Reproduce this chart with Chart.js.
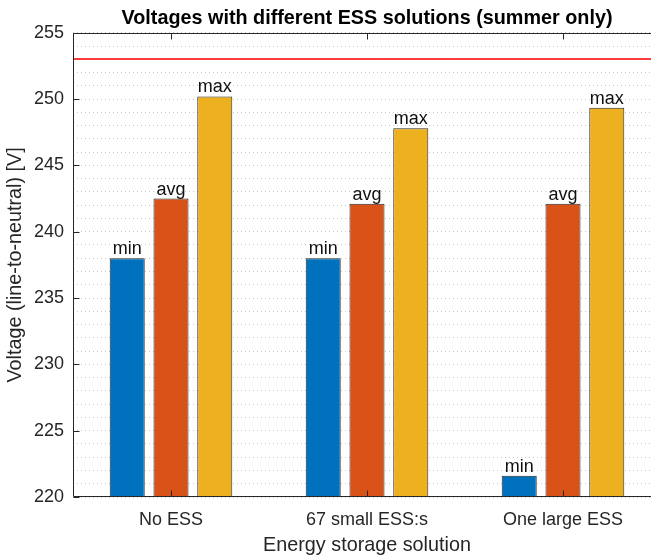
<!DOCTYPE html>
<html>
<head>
<meta charset="utf-8">
<script src="https://cdn.jsdelivr.net/npm/chart.js@4.4.1/dist/chart.umd.min.js"></script>
<style>
  html, body { margin: 0; padding: 0; background: #fff; overflow: hidden; }
  #wrap { width: 662px; height: 555px; }
</style>
</head>
<body>
<div id="wrap"><canvas id="c" width="662" height="555"></canvas></div>
<script>
// Voltage statistics per energy storage solution (summer)
const categories = ['No ESS', '67 small ESS:s', 'One large ESS'];
const seriesNames = ['min', 'avg', 'max'];
const minVoltage = [238.0, 238.0, 221.6];
const avgVoltage = [242.5, 242.1, 242.1];
const maxVoltage = [250.2, 247.8, 249.35];
const voltageLimit = 253;
const yMin = 220, yMax = 255, yStep = 1, yLabelStep = 5;

const seriesColors = ['#0072BD', '#D95319', '#EDB120'];
const textColor = '#262626';
const fontFamily = '"Liberation Sans", Arial, Helvetica, sans-serif';

// Axes box, inward tick marks, the voltage limit line and bar captions
const framePlugin = {
  id: 'frame',
  afterDatasetsDraw(chart) {
    const { ctx, chartArea: a, scales } = chart;
    ctx.save();
    ctx.setLineDash([]);
    ctx.globalAlpha = 1;

    // limit line
    const yl = scales.y.getPixelForValue(voltageLimit);
    ctx.fillStyle = '#ff0000';
    ctx.fillRect(a.left, Math.round(yl) - 0.75, a.right - a.left, 1.5);

    // axes box
    ctx.strokeStyle = textColor;
    ctx.lineWidth = 1;
    const L = Math.round(a.left) + 0.5, R = Math.round(a.right) - 0.5;
    const T = Math.round(a.top) + 0.5, B = Math.round(a.bottom) - 0.5;
    ctx.beginPath();
    ctx.moveTo(L, T); ctx.lineTo(R, T); ctx.lineTo(R, B); ctx.lineTo(L, B); ctx.closePath();
    ctx.stroke();

    // y ticks at each labelled value, pointing inward
    ctx.beginPath();
    for (let v = yMin; v <= yMax; v += yLabelStep) {
      const y = Math.round(scales.y.getPixelForValue(v)) + 0.5;
      ctx.moveTo(L, y); ctx.lineTo(L + 6, y);
      ctx.moveTo(R, y); ctx.lineTo(R - 6, y);
    }
    // x ticks at category centres, top and bottom
    categories.forEach((c, i) => {
      const x = Math.round(scales.x.getPixelForValue(i)) + 0.5;
      ctx.moveTo(x, B); ctx.lineTo(x, B - 6);
      ctx.moveTo(x, T); ctx.lineTo(x, T + 6);
    });
    ctx.stroke();

    // series names above each bar
    ctx.fillStyle = '#111';
    ctx.font = '18px ' + fontFamily;
    ctx.textAlign = 'center';
    ctx.textBaseline = 'alphabetic';
    chart.data.datasets.forEach((ds, di) => {
      const meta = chart.getDatasetMeta(di);
      meta.data.forEach(bar => {
        ctx.fillText(ds.label, bar.x, bar.y - 4);
      });
    });
    ctx.restore();
  }
};

new Chart(document.getElementById('c'), {
  type: 'bar',
  data: {
    labels: categories,
    datasets: [minVoltage, avgVoltage, maxVoltage].map((vals, i) => ({
      label: seriesNames[i],
      data: vals,
      backgroundColor: seriesColors[i],
      borderColor: 'rgba(0,0,0,0.85)',
      borderWidth: 1,
      borderSkipped: false,
      categoryPercentage: 0.67,
      barPercentage: 0.8
    }))
  },
  options: {
    responsive: false,
    animation: false,
    devicePixelRatio: 1,
    layout: { padding: { left: 0, right: 1, top: 0, bottom: 0 } },
    plugins: {
      legend: { display: false },
      tooltip: { enabled: false },
      title: {
        display: true,
        fullSize: false,
        text: 'Voltages with different ESS solutions (summer only)',
        color: '#000',
        font: { family: fontFamily, size: 19.8, weight: 'bold', lineHeight: 1.2 },
        padding: { top: 7, bottom: 2 }
      }
    },
    scales: {
      x: {
        type: 'category',
        offset: true,
        grid: { display: false, drawTicks: false },
        border: { display: false },
        ticks: { color: textColor, font: { family: fontFamily, size: 18 }, padding: 12 },
        title: {
          display: true,
          text: 'Energy storage solution',
          color: textColor,
          font: { family: fontFamily, size: 19.8, lineHeight: 1 },
          padding: { top: 0, bottom: 0 }
        },
        afterFit(scale) { scale.height = 58; }
      },
      y: {
        type: 'linear',
        min: yMin,
        max: yMax,
        grid: { color: 'rgba(0,0,0,0.22)', lineWidth: 1, drawTicks: false },
        border: { display: false, dash: [1, 3] },
        ticks: {
          stepSize: yStep,
          autoSkip: false,
          color: textColor,
          font: { family: fontFamily, size: 18 },
          padding: 9,
          callback: v => (v % yLabelStep === 0 ? String(v) : '')
        },
        title: {
          display: true,
          text: 'Voltage (line-to-neutral) [V]',
          color: textColor,
          font: { family: fontFamily, size: 19.8 },
          padding: { top: 4, bottom: 0 }
        },
        afterFit(scale) { scale.width = 73; }
      }
    }
  },
  plugins: [framePlugin]
});
</script>
</body>
</html>
